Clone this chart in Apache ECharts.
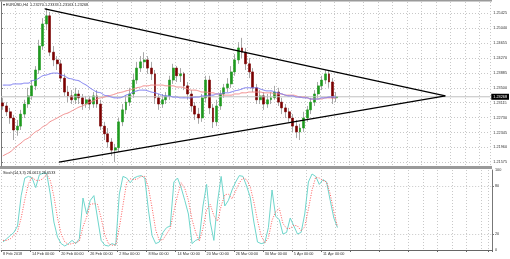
<!DOCTYPE html>
<html><head><meta charset="utf-8">
<script src="https://cdn.jsdelivr.net/npm/echarts@6/dist/echarts.min.js"></script>
<style>html,body{margin:0;padding:0;background:#fff}#c{width:510px;height:259px}</style>
</head><body><div id="c"></div>
<script>
const dateLabels = ['8 Feb 2018','14 Feb 00:00','20 Feb 00:00','26 Feb 00:00','2 Mar 00:00','8 Mar 00:00','14 Mar 00:00','20 Mar 00:00','26 Mar 00:00','30 Mar 00:00','5 Apr 00:00','11 Apr 00:00'];
const priceTicks = [1.25425,1.25040,1.24655,1.24270,1.23885,1.23500,1.23115,1.22730,1.22345,1.21960,1.21575];
const stochTicks = [0,20,80,100];
const stochGrid = [20,80];
const lastPrice = 1.23268;
const headerText = '\u25BE EURUSD,H4  1.23270 1.23333 1.23163 1.23268';
const stochText = 'Stoch(14,3,3) 28.0613 28.6533';

const openP = [1.2311,1.2303,1.2288,1.2272,1.2241,1.2251,1.2282,1.2308,1.2329,1.2355,
1.2396,1.2458,1.2515,1.2536,1.2442,1.2422,1.2412,1.2375,1.2339,1.2329,
1.2319,1.2334,1.2324,1.2308,1.2319,1.2308,1.2329,1.2308,1.2251,1.2231,
1.2210,1.2189,1.2195,1.2262,1.2293,1.2313,1.2334,1.2370,1.2401,1.2417,
1.2422,1.2401,1.2386,1.2324,1.2308,1.2319,1.2329,1.2370,1.2401,1.2381,
1.2386,1.2355,1.2334,1.2303,1.2282,1.2272,1.2324,1.2370,1.2298,1.2262,
1.2303,1.2334,1.2350,1.2360,1.2391,1.2422,1.2453,1.2442,1.2412,1.2391,
1.2350,1.2319,1.2329,1.2308,1.2319,1.2324,1.2339,1.2313,1.2298,1.2288,
1.2272,1.2251,1.2236,1.2246,1.2272,1.2293,1.2313,1.2334,1.2355,1.2370,
1.2386,1.2365,1.2324];
const closeP = [1.2303,1.2288,1.2272,1.2241,1.2251,1.2282,1.2308,1.2329,1.2355,1.2396,
1.2458,1.2515,1.2536,1.2442,1.2422,1.2412,1.2375,1.2339,1.2329,1.2319,
1.2334,1.2324,1.2308,1.2319,1.2308,1.2329,1.2308,1.2251,1.2231,1.2210,
1.2189,1.2195,1.2262,1.2293,1.2313,1.2334,1.2370,1.2401,1.2417,1.2422,
1.2401,1.2386,1.2324,1.2308,1.2319,1.2329,1.2370,1.2401,1.2381,1.2386,
1.2355,1.2334,1.2303,1.2282,1.2272,1.2324,1.2370,1.2298,1.2262,1.2303,
1.2334,1.2350,1.2360,1.2391,1.2422,1.2453,1.2442,1.2412,1.2391,1.2350,
1.2319,1.2329,1.2308,1.2319,1.2324,1.2339,1.2313,1.2298,1.2288,1.2272,
1.2251,1.2236,1.2246,1.2272,1.2293,1.2313,1.2334,1.2355,1.2370,1.2386,
1.2365,1.2324,1.23268];
const lowP = [1.2293,1.2277,1.2257,1.2215,1.2226,1.2241,1.2272,1.2298,1.2319,1.2344,
1.2386,1.2448,1.2499,1.2432,1.2406,1.2396,1.2365,1.2329,1.2313,1.2308,
1.2308,1.2308,1.2293,1.2298,1.2293,1.2298,1.2298,1.2241,1.2215,1.2195,
1.2174,1.2158,1.2184,1.2251,1.2282,1.2303,1.2324,1.2360,1.2391,1.2401,
1.2386,1.2370,1.2308,1.2293,1.2298,1.2308,1.2319,1.2360,1.2365,1.2365,
1.2344,1.2319,1.2288,1.2267,1.2257,1.2262,1.2313,1.2282,1.2246,1.2251,
1.2293,1.2324,1.2339,1.2350,1.2381,1.2412,1.2427,1.2396,1.2375,1.2339,
1.2308,1.2308,1.2293,1.2298,1.2308,1.2319,1.2303,1.2282,1.2272,1.2262,
1.2236,1.2220,1.2215,1.2236,1.2262,1.2282,1.2303,1.2324,1.2344,1.2360,
1.2350,1.2308,1.2313];
const highP = [1.2324,1.2313,1.2298,1.2280,1.2267,1.2293,1.2319,1.2350,1.2370,1.2406,
1.2474,1.2530,1.2556,1.2546,1.2458,1.2432,1.2422,1.2386,1.2355,1.2344,
1.2350,1.2344,1.2334,1.2329,1.2329,1.2339,1.2344,1.2319,1.2262,1.2246,
1.2220,1.2205,1.2272,1.2308,1.2329,1.2350,1.2386,1.2417,1.2432,1.2442,
1.2432,1.2417,1.2396,1.2334,1.2334,1.2339,1.2381,1.2412,1.2406,1.2401,
1.2391,1.2365,1.2344,1.2313,1.2298,1.2334,1.2381,1.2381,1.2308,1.2319,
1.2344,1.2360,1.2375,1.2406,1.2437,1.2468,1.2479,1.2453,1.2427,1.2401,
1.2360,1.2344,1.2339,1.2334,1.2339,1.2355,1.2350,1.2324,1.2308,1.2298,
1.2282,1.2267,1.2257,1.2288,1.2303,1.2324,1.2344,1.2365,1.2381,1.2396,
1.2396,1.2375,1.2339];
const maBlue = [1.2357,1.2357,1.2357,1.2360,1.2360,1.2360,1.2362,1.2362,1.2368,1.2370,
1.2375,1.2381,1.2383,1.2386,1.2388,1.2388,1.2383,1.2381,1.2375,1.2373,
1.2370,1.2368,1.2362,1.2357,1.2350,1.2344,1.2339,1.2337,1.2331,1.2329,
1.2326,1.2324,1.2324,1.2326,1.2331,1.2334,1.2339,1.2342,1.2344,1.2344,
1.2342,1.2339,1.2337,1.2334,1.2331,1.2329,1.2329,1.2326,1.2326,1.2324,
1.2324,1.2324,1.2324,1.2326,1.2326,1.2329,1.2329,1.2331,1.2331,1.2334,
1.2334,1.2337,1.2337,1.2339,1.2342,1.2344,1.2347,1.2350,1.2350,1.2350,
1.2350,1.2347,1.2344,1.2342,1.2342,1.2339,1.2337,1.2334,1.2331,1.2329,
1.2329,1.2326,1.2326,1.2324,1.2324,1.2321,1.2321,1.2321,1.2324,1.2324,
1.2326,1.2326,1.2326];
const maRed = [1.2174,1.2179,1.2184,1.2192,1.2200,1.2207,1.2215,1.2220,1.2228,1.2236,
1.2241,1.2249,1.2254,1.2262,1.2267,1.2272,1.2277,1.2282,1.2285,1.2290,
1.2295,1.2300,1.2303,1.2308,1.2313,1.2316,1.2321,1.2324,1.2326,1.2329,
1.2331,1.2334,1.2337,1.2339,1.2342,1.2344,1.2347,1.2350,1.2352,1.2355,
1.2355,1.2357,1.2357,1.2357,1.2357,1.2355,1.2355,1.2355,1.2352,1.2352,
1.2350,1.2347,1.2344,1.2344,1.2342,1.2339,1.2339,1.2337,1.2337,1.2334,
1.2334,1.2331,1.2331,1.2331,1.2334,1.2334,1.2337,1.2337,1.2339,1.2339,
1.2339,1.2339,1.2337,1.2337,1.2337,1.2334,1.2334,1.2334,1.2331,1.2331,
1.2331,1.2329,1.2326,1.2326,1.2324,1.2321,1.2321,1.2321,1.2321,1.2324,
1.2324,1.2324,1.2324];
const stochK = [10,14,18,22,30,68,90,92,90,78,
94,96,96,70,35,16,8,5,8,12,
8,14,65,45,62,68,40,12,6,5,
8,6,70,92,90,84,90,92,93,90,
50,18,8,10,22,28,30,85,90,78,
62,45,8,12,14,55,82,35,12,60,
92,55,62,75,85,93,92,80,66,35,
10,8,9,28,75,42,38,20,22,40,
30,20,22,45,85,95,92,82,88,85,
62,40,28];
const stochD = [12,12,14,18,23,40,63,83,91,87,
87,89,95,87,67,40,20,10,7,8,
9,11,29,41,57,58,57,40,19,8,
6,6,28,56,84,89,88,89,92,92,
78,53,25,12,13,20,27,48,68,84,
77,62,38,22,11,27,50,57,43,36,
55,69,70,64,74,84,90,88,79,60,
37,18,9,15,37,48,52,33,27,27,
31,30,24,29,51,75,91,90,87,85,
70,48,29];
const trendUpper = [[12.1,1.2554],[122.6,1.2329]];
const trendLower = [[16.0,1.2158],[122.6,1.2329]];
const bidLine = [[0,lastPrice],[135,lastPrice]];
const totalSlots = 135;

const cats = [];
for (let i = 0; i < totalSlots; i++) {
  cats.push(i % 8 === 0 && i / 8 < dateLabels.length ? dateLabels[i / 8] : '');
}
const wickData = openP.map((o, i) => [o, closeP[i], lowP[i], highP[i]]);
const bodyData = openP.map((o, i) => [o, closeP[i], Math.min(o, closeP[i]), Math.max(o, closeP[i])]);

const FS = 3.8, FF = 'Liberation Sans', TC = '#333';
const gridLine = { show: true, lineStyle: { color: '#c8c8c8', type: [1, 2], width: 1 } };

const chart = echarts.init(document.getElementById('c'), null, { renderer: 'canvas' });
chart.setOption({
  animation: false,
  backgroundColor: '#fff',
  title: [
    { text: headerText, left: 3, top: 3, padding: 0, textStyle: { fontSize: FS, fontWeight: 'normal', color: '#222', fontFamily: FF } },
    { text: stochText, left: 3, top: 171, padding: 0, textStyle: { fontSize: FS, fontWeight: 'normal', color: '#222', fontFamily: FF } }
  ],
  grid: [
    { left: 1, top: 2, width: 491, height: 164 },
    { left: 1, top: 170, width: 491, height: 80 }
  ],
  xAxis: [
    { type: 'category', gridIndex: 0, data: cats, boundaryGap: true,
      axisLine: { show: false }, axisTick: { show: false }, axisLabel: { show: false },
      splitLine: Object.assign({ interval: 3 }, gridLine) },
    { type: 'category', gridIndex: 1, data: cats, boundaryGap: true,
      axisLine: { show: true, lineStyle: { color: '#666', width: 1 } },
      axisTick: { show: true, interval: 7, length: 2, lineStyle: { color: '#666' } },
      axisLabel: { show: true, interval: 0, align: 'left', fontSize: FS, fontFamily: FF, color: TC, margin: 2 },
      splitLine: Object.assign({ interval: 3 }, gridLine) },
    { type: 'value', gridIndex: 0, min: 0, max: totalSlots, show: false }
  ],
  yAxis: [
    { type: 'value', gridIndex: 0, position: 'right', min: 1.21479, max: 1.25717, scale: true,
      axisLine: { show: true, lineStyle: { color: '#777', width: 1 } },
      axisTick: { show: true, length: 2, customValues: priceTicks, lineStyle: { color: '#777' } },
      axisLabel: { show: true, customValues: priceTicks, formatter: v => v.toFixed(5), fontSize: FS, fontFamily: FF, color: TC, margin: 3 },
      splitLine: gridLine },
    { type: 'value', gridIndex: 1, position: 'right', min: 0, max: 100,
      axisLine: { show: true, lineStyle: { color: '#777', width: 1 } },
      axisTick: { show: true, length: 2, customValues: stochGrid, lineStyle: { color: '#777' } },
      axisLabel: { show: true, customValues: stochTicks, fontSize: FS, fontFamily: FF, color: TC, margin: 3 },
      splitLine: gridLine }
  ],
  series: [
    { type: 'line', xAxisIndex: 2, yAxisIndex: 0, data: bidLine, showSymbol: false, silent: true,
      lineStyle: { color: '#c0c0c0', width: 1 },
      endLabel: { show: true, formatter: lastPrice.toFixed(5), backgroundColor: '#000', color: '#fff', fontSize: FS, fontFamily: FF, padding: [1, 2], distance: 1 } },
    { type: 'candlestick', xAxisIndex: 0, yAxisIndex: 0, data: wickData, barWidth: 1,
      itemStyle: { color: '#a8a8a8', color0: '#a8a8a8', borderColor: '#a8a8a8', borderColor0: '#a8a8a8', borderWidth: 1 } },
    { type: 'line', xAxisIndex: 0, yAxisIndex: 0, data: maRed, showSymbol: false, smooth: true,
      lineStyle: { color: '#f28a8a', width: 1 } },
    { type: 'line', xAxisIndex: 0, yAxisIndex: 0, data: maBlue, showSymbol: false, smooth: true,
      lineStyle: { color: '#7878f0', width: 1 } },
    { type: 'candlestick', xAxisIndex: 0, yAxisIndex: 0, data: bodyData, barWidth: 2.4,
      itemStyle: { color: '#1f9a1f', color0: '#7a0000', borderColor: '#1f9a1f', borderColor0: '#7a0000', borderWidth: 0.6 } },
    { type: 'line', xAxisIndex: 2, yAxisIndex: 0, data: trendUpper, showSymbol: false,
      lineStyle: { color: '#000', width: 1.2 } },
    { type: 'line', xAxisIndex: 2, yAxisIndex: 0, data: trendLower, showSymbol: false,
      lineStyle: { color: '#000', width: 1.2 } },
    { type: 'line', xAxisIndex: 1, yAxisIndex: 1, data: stochK, showSymbol: false,
      lineStyle: { color: '#6fd6cc', width: 1 } },
    { type: 'line', xAxisIndex: 1, yAxisIndex: 1, data: stochD, showSymbol: false,
      lineStyle: { color: '#ff5c5c', width: 1, type: [1, 1.5] } }
  ],
  graphic: [
    { type: 'rect', left: 0, top: 0, shape: { width: 492, height: 1.5 }, style: { fill: '#9a9a9a' }, silent: true },
    { type: 'rect', left: 0, top: 166, shape: { width: 492, height: 3 }, style: { fill: '#9a9a9a' }, silent: true }
  ]
});
</script>
</body></html>
